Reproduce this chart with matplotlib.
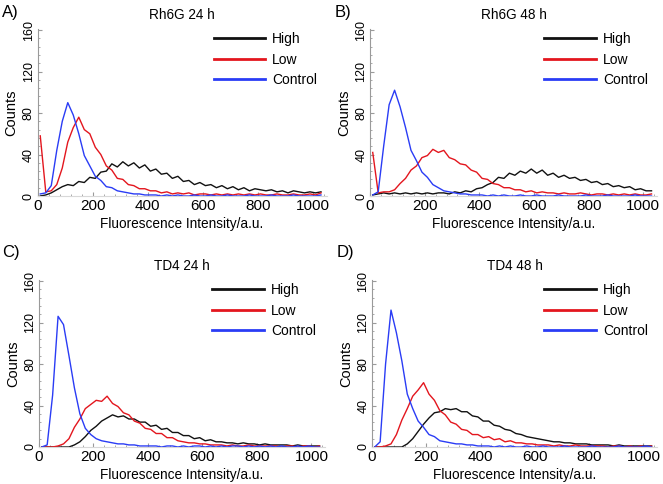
import matplotlib
matplotlib.use('Agg')
import matplotlib.pyplot as plt
from matplotlib.ticker import MultipleLocator

plt.rcParams['font.family'] = ['Liberation Sans', 'DejaVu Sans']

# bin centres (a.u.)
bins = list(range(10, 1050, 20))

# A) Rh6G 24 h
a_high = [0, 1, 3, 6, 9, 11, 10, 14, 13, 18, 17, 23, 24, 31, 28, 33, 29, 32, 27, 30,
          24, 26, 21, 22, 17, 19, 14, 15, 11, 13, 10, 11, 8, 10, 7, 9, 6, 8, 5, 7,
          6, 5, 6, 4, 5, 3, 5, 4, 3, 4, 3, 4]
a_low = [58, 4, 5, 11, 27, 52, 66, 76, 64, 60, 47, 40, 29, 25, 17, 16, 11, 10, 7, 7,
         5, 5, 3, 4, 2, 3, 2, 3, 1, 2, 2, 1, 2, 1, 2, 1, 2, 1, 2, 1,
         2, 1, 1, 2, 1, 1, 2, 1, 1, 2, 1, 3]
a_ctrl = [2, 3, 10, 44, 72, 90, 78, 60, 39, 29, 19, 15, 9, 8, 5, 4, 3, 2, 2, 1,
          1, 1, 0, 1, 0, 1, 0, 0, 1, 0, 0, 1, 0, 0, 1, 0, 0, 0, 1, 0,
          0, 0, 1, 0, 0, 0, 1, 0, 0, 0, 0, 1]

# B) Rh6G 48 h
b_high = [1, 2, 3, 2, 3, 2, 3, 2, 3, 2, 3, 2, 3, 3, 2, 4, 3, 5, 4, 7,
          8, 11, 13, 18, 17, 22, 20, 24, 22, 26, 22, 25, 20, 22, 18, 20, 17, 18, 15, 16,
          13, 14, 11, 12, 9, 10, 8, 9, 6, 7, 5, 5]
b_low = [42, 3, 4, 4, 6, 12, 17, 25, 29, 37, 39, 45, 42, 44, 37, 35, 31, 30, 25, 23,
         17, 16, 12, 11, 8, 8, 6, 6, 4, 5, 3, 4, 3, 3, 2, 3, 2, 2, 3, 2,
         1, 2, 2, 1, 2, 1, 2, 1, 2, 1, 1, 2]
b_ctrl = [1, 4, 48, 88, 102, 86, 66, 44, 34, 23, 18, 11, 8, 5, 4, 3, 2, 2, 1, 1,
          1, 0, 1, 0, 1, 0, 0, 1, 0, 0, 1, 0, 0, 0, 1, 0, 0, 0, 0, 1,
          0, 0, 0, 1, 0, 0, 0, 0, 1, 0, 0, 0]

# C) TD4 24 h
c_high = [0, 0, 0, 0, 0, 0, 2, 5, 10, 16, 20, 25, 28, 31, 29, 30, 27, 27, 24, 24,
          20, 21, 17, 18, 14, 14, 11, 11, 8, 9, 6, 7, 5, 5, 4, 4, 3, 4, 3, 3,
          2, 3, 2, 2, 2, 2, 1, 2, 1, 1, 1, 1]
c_low = [0, 0, 0, 1, 3, 8, 19, 27, 37, 41, 45, 44, 49, 42, 39, 33, 31, 25, 23, 18,
         17, 13, 13, 9, 9, 6, 5, 4, 4, 3, 3, 2, 2, 2, 1, 2, 1, 1, 2, 1,
         1, 1, 1, 1, 0, 1, 1, 0, 1, 1, 0, 1]
c_ctrl = [0, 2, 50, 126, 118, 88, 57, 32, 18, 12, 8, 6, 5, 4, 3, 3, 2, 2, 1, 1,
          1, 1, 0, 1, 1, 0, 1, 0, 1, 1, 0, 1, 0, 1, 0, 1, 1, 0, 1, 0,
          1, 0, 1, 0, 1, 0, 0, 1, 0, 1, 0, 0]

# D) TD4 48 h
d_high = [0, 0, 0, 0, 0, 0, 3, 8, 15, 22, 28, 33, 34, 37, 36, 37, 34, 34, 30, 29,
          25, 25, 21, 20, 17, 16, 13, 12, 10, 9, 8, 7, 6, 5, 5, 4, 4, 3, 3, 3,
          2, 2, 2, 2, 1, 2, 1, 1, 1, 1, 1, 1]
d_low = [0, 0, 1, 3, 12, 26, 37, 49, 55, 62, 51, 45, 35, 31, 24, 22, 17, 16, 12, 12,
         9, 10, 7, 8, 5, 6, 4, 4, 3, 3, 2, 2, 2, 1, 2, 1, 1, 2, 1, 1,
         1, 1, 1, 0, 1, 1, 0, 1, 0, 1, 0, 1]
d_ctrl = [0, 5, 80, 132, 110, 83, 51, 37, 25, 19, 12, 10, 6, 5, 4, 3, 3, 2, 2, 1,
          1, 1, 0, 1, 0, 1, 0, 0, 1, 0, 0, 1, 0, 0, 0, 1, 0, 0, 0, 0,
          1, 0, 0, 0, 0, 1, 0, 0, 0, 0, 1, 0]

panels = [
    ('A)', 'Rh6G 24 h', a_high, a_low, a_ctrl),
    ('B)', 'Rh6G 48 h', b_high, b_low, b_ctrl),
    ('C)', 'TD4 24 h', c_high, c_low, c_ctrl),
    ('D)', 'TD4 48 h', d_high, d_low, d_ctrl),
]

COLORS = {'High': '#111111', 'Low': '#e3161e', 'Control': '#2a3cf5'}

fig = plt.figure(figsize=(6.63, 4.84), dpi=100)
W, H = 663, 484
# axes rectangles in pixels: left, top, width, height
rects = [(37.5, 29, 289, 167), (370, 29, 287, 167),
         (39, 280, 286, 167), (372, 280, 285, 167)]
label_pos = [(2, 12), (335, 12), (2, 252), (337, 252)]

for (tag, title, high, low, ctrl), (l, t, w, h), (lx, ly) in zip(panels, rects, label_pos):
    ax = fig.add_axes([l / W, 1 - (t + h) / H, w / W, h / H])
    ax.plot(bins, high, color=COLORS['High'], lw=1.0, label='High')
    ax.plot(bins, low, color=COLORS['Low'], lw=1.0, label='Low')
    ax.plot(bins, ctrl, color=COLORS['Control'], lw=1.0, label='Control')
    ax.set_xlim(0, 1050)
    ax.set_ylim(0, 161)
    ax.set_xticks([0, 200, 400, 600, 800, 1000])
    ax.set_yticks([0, 40, 80, 120, 160])
    ax.yaxis.set_minor_locator(MultipleLocator(8))
    ax.xaxis.set_minor_locator(MultipleLocator(40))
    for s in ('top', 'right'):
        ax.spines[s].set_visible(False)
    ax.spines['left'].set_color('#9a9a9a')
    ax.spines['bottom'].set_color('#d8d8d8')
    ax.tick_params(axis='both', which='both', direction='in', color='#9a9a9a', pad=2)
    ax.tick_params(axis='x', labelsize=11)
    ax.tick_params(axis='y', labelsize=9)
    ax.tick_params(axis='both', which='major', length=3)
    ax.tick_params(axis='both', which='minor', length=1.5)
    for lab in ax.get_yticklabels():
        lab.set_rotation(90)
        lab.set_va('center')
    ax.set_ylabel('Counts', fontsize=10.5, labelpad=3)
    ax.set_xlabel('Fluorescence Intensity/a.u.', fontsize=9.8, labelpad=3)
    ax.set_title(title, fontsize=9.8, pad=7)
    leg = ax.legend(loc='upper right', bbox_to_anchor=(0.997, 1.03), frameon=False,
                    fontsize=10, handlelength=3.7, handletextpad=0.5,
                    labelspacing=0.45, borderaxespad=0.2)
    for line in leg.get_lines():
        line.set_linewidth(2)
    fig.text(lx / W, 1 - ly / H, tag, fontsize=12, va='center', ha='left')

fig.savefig('out.png', dpi=100)
